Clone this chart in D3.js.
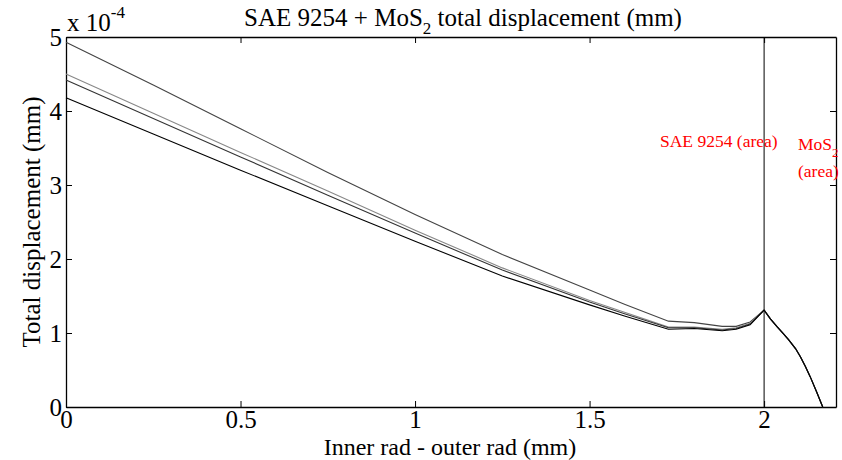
<!DOCTYPE html>
<html><head><meta charset="utf-8">
<script src="https://cdn.jsdelivr.net/npm/d3@7"></script>
<style>body{margin:0;background:#fff}svg{display:block}text{font-family:"Liberation Serif","Times New Roman",serif}</style>
</head><body>
<svg id="c" width="842" height="460"></svg>
<script>
const xVals = [0, 0.25, 0.5, 0.75, 1.0, 1.25, 1.5, 1.6, 1.726, 1.8, 1.88, 1.92, 1.96, 2.0, 2.018, 2.037, 2.055, 2.07, 2.09, 2.104, 2.118, 2.132, 2.15, 2.168];
const tail = [1.31, 1.19, 1.085, 0.99, 0.91, 0.79, 0.68, 0.55, 0.41, 0.21, 0];
const seriesA = [4.93, 4.35, 3.76, 3.17, 2.60, 2.06, 1.58, 1.39, 1.16, 1.14, 1.09, 1.09, 1.15].concat(tail);
const seriesB = [4.50, 3.97, 3.44, 2.92, 2.39, 1.88, 1.44, 1.28, 1.08, 1.08, 1.05, 1.07, 1.13].concat(tail);
const seriesC = [4.42, 3.90, 3.38, 2.86, 2.35, 1.85, 1.42, 1.26, 1.07, 1.07, 1.04, 1.06, 1.12].concat(tail);
const seriesD = [4.18, 3.69, 3.20, 2.72, 2.24, 1.77, 1.38, 1.23, 1.05, 1.06, 1.03, 1.05, 1.11].concat(tail);
const seriesColors = ["#444", "#888", "#333", "#000"];
const xTicks = [0, 0.5, 1, 1.5, 2];
const xTickLabels = ["0", "0.5", "1", "1.5", "2"];
const yTicks = [0, 1, 2, 3, 4, 5];
const boundaryX = 2;

const svg = d3.select("#c");
const L = 66, R = 836, T = 37, B = 407;
const x = d3.scaleLinear().domain([0, 2.206]).range([L, R]);
const y = d3.scaleLinear().domain([0, 5]).range([B, T]);

const fs = 25;
const ax = svg.append("g").attr("transform", `translate(0,${B})`)
  .call(d3.axisBottom(x).tickValues(xTicks).tickFormat((d,i)=>xTickLabels[i]).tickSizeInner(-6).tickSizeOuter(0).tickPadding(1));
const axT = svg.append("g").attr("transform", `translate(0,${T})`)
  .call(d3.axisTop(x).tickValues(xTicks).tickFormat("").tickSizeInner(-6).tickSizeOuter(0));
const ay = svg.append("g").attr("transform", `translate(${L},0)`)
  .call(d3.axisLeft(y).tickValues(yTicks).tickFormat(d3.format("d")).tickSizeInner(-6).tickSizeOuter(0).tickPadding(4));
const ayR = svg.append("g").attr("transform", `translate(${R},0)`)
  .call(d3.axisRight(y).tickValues(yTicks).tickFormat("").tickSizeInner(-6).tickSizeOuter(0));
[ax, axT, ay, ayR].forEach(g => {
  g.selectAll("path.domain").attr("stroke", "#000").attr("stroke-width", 1.3);
  g.selectAll(".tick line").attr("stroke", "#000");
  g.selectAll("text").attr("font-size", fs).attr("fill", "#000").style("font-family", '"Liberation Serif",serif');
});
ax.selectAll("text").attr("dy", "0.8em");
ay.selectAll("text").attr("dy", "0.35em");

svg.append("line").attr("x1", x(boundaryX)).attr("x2", x(boundaryX)).attr("y1", T).attr("y2", B)
  .attr("stroke", "#000").attr("stroke-width", 1);

const line = d3.line().x((d,i)=>x(xVals[i])).y(d=>y(d));
[seriesA, seriesB, seriesC, seriesD].forEach((s, k) => {
  svg.append("path").datum(s).attr("d", line).attr("fill", "none")
    .attr("stroke", seriesColors[k]).attr("stroke-width", 1.1);
});

const ex = svg.append("text").attr("x", 67).attr("y", 31).attr("font-size", fs);
ex.append("tspan").text("x 10");
ex.append("tspan").attr("font-size", 17).attr("dy", -13).text("-4");

const t = svg.append("text").attr("x", 463).attr("y", 26).attr("text-anchor", "middle").attr("font-size", fs);
t.append("tspan").text("SAE 9254 + MoS");
t.append("tspan").attr("font-size", 17).attr("dy", 8).text("2");
t.append("tspan").attr("dy", -8).text(" total displacement (mm)");

svg.append("text").attr("x", 450).attr("y", 455).attr("text-anchor", "middle").attr("font-size", 24)
  .text("Inner rad - outer rad (mm)");
svg.append("text").attr("transform", `translate(40,${(T+B)/2}) rotate(-90)`).attr("text-anchor", "middle").attr("font-size", fs)
  .text("Total displacement (mm)");

svg.append("text").attr("x", 660).attr("y", 147).attr("font-size", 17.5).attr("fill", "#ff0000").text("SAE 9254 (area)");
const m = svg.append("text").attr("x", 798).attr("y", 150).attr("font-size", 17.5).attr("fill", "#ff0000");
m.append("tspan").text("MoS");
m.append("tspan").attr("font-size", 13).attr("dy", 7).text("2");
svg.append("text").attr("x", 798).attr("y", 177).attr("font-size", 17.5).attr("fill", "#ff0000").text("(area)");
</script>
</body></html>
